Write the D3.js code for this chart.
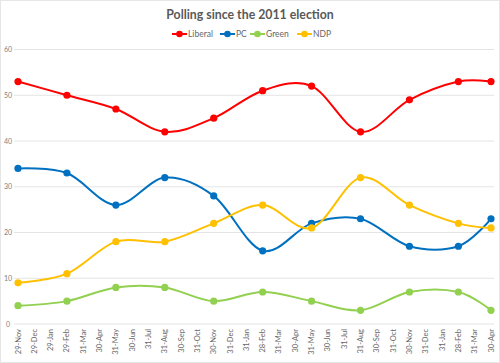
<!DOCTYPE html>
<html>
<head>
<meta charset="utf-8">
<script src="https://cdn.jsdelivr.net/npm/d3@7"></script>
<style>
  body { margin: 0; background: #fff; }
  svg { font-family: Lato, "Open Sans", sans-serif; }
</style>
</head>
<body>
<svg id="chart" width="500" height="363"></svg>
<script>
const months = ['29-Nov', '29-Dec', '29-Jan', '29-Feb', '31-Mar', '30-Apr', '31-May', '30-Jun', '31-Jul', '31-Aug',
  '30-Sep', '31-Oct', '30-Nov', '31-Dec', '31-Jan', '28-Feb', '31-Mar', '30-Apr', '31-May', '30-Jun',
  '31-Jul', '31-Aug', '30-Sep', '31-Oct', '30-Nov', '31-Dec', '31-Jan', '28-Feb', '31-Mar', '30-Apr']
// month index of each poll
const pollIdx = [0, 3, 6, 9, 12, 15, 18, 21, 24, 27, 29]
const liberal = [53, 50, 47, 42, 45, 51, 52, 42, 49, 53, 53]
const pc = [34, 33, 26, 32, 28, 16, 22, 23, 17, 17, 23]
const green = [4, 5, 8, 8, 5, 7, 5, 3, 7, 7, 3]
const ndp = [9, 11, 18, 18, 22, 26, 21, 32, 26, 22, 21]
const yTicks = [0, 10, 20, 30, 40, 50, 60]

const series = [
  { name: 'Liberal', values: liberal, color: '#ff0000' },
  { name: 'PC', values: pc, color: '#0070c0' },
  { name: 'Green', values: green, color: '#92d050' },
  { name: 'NDP', values: ndp, color: '#ffc000' }
]

const svg = d3.select('#chart')
svg.append('rect').attr('x', 0.5).attr('y', 0.5).attr('width', 499).attr('height', 362)
  .attr('fill', '#fff').attr('stroke', '#e6e6e6')

const x = d3.scalePoint().domain(d3.range(months.length)).range([18, 491])
const y = d3.scaleLinear().domain([0, 60]).range([324, 49.5])

// gridlines
svg.append('g').selectAll('line').data(yTicks).join('line')
  .attr('x1', 14).attr('x2', 494)
  .attr('y1', (d) => y(d)).attr('y2', (d) => y(d))
  .attr('stroke', '#e4e4e4').attr('stroke-width', 1)

// y labels
svg.append('g').selectAll('text').data(yTicks).join('text')
  .attr('x', 8).attr('y', (d) => y(d) + 2.5)
  .attr('text-anchor', 'middle')
  .attr('font-size', 7).attr('fill', '#808080')
  .text((d) => d)

// x labels
svg.append('g').selectAll('text').data(months).join('text')
  .attr('transform', (d, i) => 'translate(' + (x(i) + 2.5) + ',329) rotate(-90)')
  .attr('text-anchor', 'end')
  .attr('font-size', 7.5).attr('fill', '#666')
  .text((d) => d)

const line = d3.line()
  .x((d, i) => x(pollIdx[i]))
  .y((d) => y(d))
  .curve(d3.curveCatmullRom.alpha(0))

series.forEach((s) => {
  svg.append('path').datum(s.values)
    .attr('d', line)
    .attr('fill', 'none').attr('stroke', s.color).attr('stroke-width', 2)
  svg.append('g').selectAll('circle').data(s.values).join('circle')
    .attr('cx', (d, i) => x(pollIdx[i])).attr('cy', (d) => y(d))
    .attr('r', 3.6).attr('fill', s.color)
})

// title
svg.append('text').attr('x', 250).attr('y', 18.5)
  .attr('text-anchor', 'middle').attr('font-size', 12.3).attr('font-weight', 'bold')
  .attr('fill', '#595959').text('Polling since the 2011 election')

// legend
const legendX = [172, 220, 250, 297]
const lg = svg.append('g').selectAll('g').data(series).join('g')
  .attr('transform', (d, i) => 'translate(' + legendX[i] + ',34)')
lg.append('line').attr('x1', 0).attr('x2', 15).attr('stroke', (d) => d.color).attr('stroke-width', 2)
lg.append('circle').attr('cx', 7.5).attr('r', 3.3).attr('fill', (d) => d.color)
lg.append('text').attr('x', 16).attr('y', 3).attr('font-size', 8.5).attr('fill', '#666')
  .text((d) => d.name)
</script>
</body>
</html>
